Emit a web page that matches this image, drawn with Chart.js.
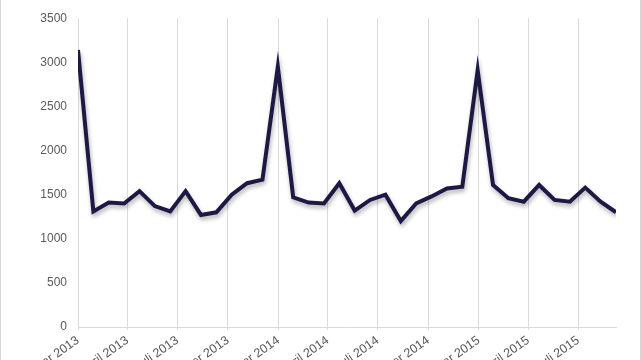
<!DOCTYPE html>
<html>
<head>
<meta charset="utf-8">
<script src="https://cdn.jsdelivr.net/npm/chart.js@4/dist/chart.umd.min.js"></script>
<style>
html,body{margin:0;padding:0;background:#fff;overflow:hidden;width:641px;height:360px;}
#wrap{position:relative;width:641px;height:420px;}
#c{position:absolute;left:0;top:0;}
.edge{position:absolute;top:0;width:1px;height:360px;background:#d6d6d6;}
</style>
</head>
<body>
<div id="wrap">
<canvas id="c" width="641" height="420"></canvas>
<div class="edge" style="left:0"></div>
<div class="edge" style="left:640px"></div>
</div>
<script>
const periodDates = ["2013-01-01","2013-01-29","2013-02-26","2013-03-26","2013-04-23","2013-05-21","2013-06-18","2013-07-16","2013-08-13","2013-09-10","2013-10-08","2013-11-05","2013-12-03","2013-12-31","2014-01-28","2014-02-25","2014-03-25","2014-04-22","2014-05-20","2014-06-17","2014-07-15","2014-08-12","2014-09-09","2014-10-07","2014-11-04","2014-12-02","2014-12-30","2015-01-27","2015-02-24","2015-03-24","2015-04-21","2015-05-19","2015-06-16","2015-07-14","2015-08-11","2015-09-08"];
const values = [3140,1310,1410,1400,1540,1370,1310,1540,1270,1300,1500,1630,1670,2950,1470,1410,1400,1630,1320,1440,1500,1200,1400,1480,1570,1590,2910,1610,1460,1420,1610,1440,1420,1580,1420,1300];
const tickDates = ["2013-01-01","2013-04-01","2013-07-01","2013-10-01","2014-01-01","2014-04-01","2014-07-01","2014-10-01","2015-01-01","2015-04-01","2015-07-01"];
const tickLabels = ["Januar 2013","April 2013","Juli 2013","Oktober 2013","Januar 2014","April 2014","Juli 2014","Oktober 2014","Januar 2015","April 2015","Juli 2015"];
const yTicks = [0,500,1000,1500,2000,2500,3000,3500];

const DAY = 86400000;
const t0 = Date.parse(periodDates[0] + "T00:00:00Z");
const toDay = s => Math.round((Date.parse(s + "T00:00:00Z") - t0) / DAY);
const points = periodDates.map((d, i) => ({x: toDay(d), y: values[i]}));
const tickDays = tickDates.map(toDay);

const shadow = {
  id: 'shadow',
  beforeDatasetDraw(chart) {
    const ctx = chart.ctx;
    ctx.save();
    ctx.shadowColor = 'rgba(0,0,0,0.3)';
    ctx.shadowBlur = 4;
    ctx.shadowOffsetX = 1;
    ctx.shadowOffsetY = 3;
  },
  afterDatasetDraw(chart) { chart.ctx.restore(); }
};

new Chart(document.getElementById('c'), {
  type: 'line',
  data: {
    datasets: [{
      data: points,
      borderColor: '#1d1945',
      borderWidth: 4,
      pointRadius: 0,
      tension: 0,
      fill: false,
      borderJoinStyle: 'miter'
    }]
  },
  options: {
    responsive: false,
    animation: false,
    events: [],
    layout: {padding: {top: 12, right: 25, left: 0, bottom: 0}},
    plugins: {legend: {display: false}, tooltip: {enabled: false}},
    scales: {
      x: {
        type: 'linear',
        min: 0,
        max: points[points.length - 1].x,
        afterBuildTicks(scale) { scale.ticks = tickDays.map(v => ({value: v})); },
        afterFit(scale) { scale.height = 420 - 327; },
        grid: {display: true, color: '#dadada', lineWidth: 1, drawTicks: true, tickLength: 3},
        border: {display: true, color: '#d9d9d9'},
        ticks: {
          autoSkip: false,
          minRotation: 35,
          maxRotation: 35,
          padding: 3,
          color: '#595959',
          font: {family: '"Liberation Sans", Arial, sans-serif', size: 12.5},
          callback(v) { const i = tickDays.indexOf(v); return i >= 0 ? tickLabels[i] : null; }
        }
      },
      y: {
        min: 0,
        max: 3500,
        afterBuildTicks(scale) { scale.ticks = yTicks.map(v => ({value: v})); },
        afterFit(scale) { scale.width = 78; },
        grid: {display: false, drawTicks: false},
        border: {display: true, color: '#d9d9d9'},
        ticks: {
          padding: 11,
          color: '#595959',
          font: {family: '"Liberation Sans", Arial, sans-serif', size: 12},
          callback(v) { return String(v); }
        }
      }
    }
  },
  plugins: [shadow]
});
</script>
</body>
</html>
